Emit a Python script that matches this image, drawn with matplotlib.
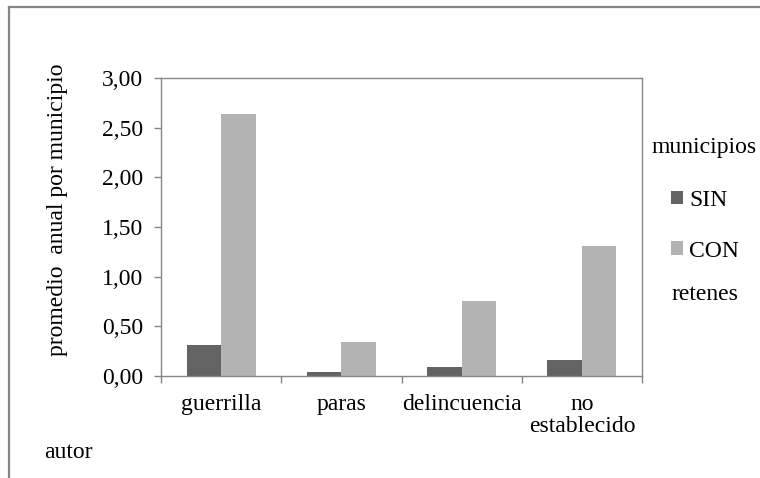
import numpy as np
import matplotlib
matplotlib.use("Agg")
import matplotlib.pyplot as plt
from matplotlib.lines import Line2D
from matplotlib.ticker import FuncFormatter

# data
autores = ["guerrilla", "paras", "delincuencia", "no\nestablecido"]
sin_retenes = [0.315, 0.037, 0.094, 0.165]
con_retenes = [2.64, 0.345, 0.76, 1.31]
series_names = ["SIN", "CON"]
y_ticks = [0.0, 0.5, 1.0, 1.5, 2.0, 2.5, 3.0]

plt.rcParams['font.family'] = ['Liberation Serif', 'DejaVu Serif']
plt.rcParams['font.size'] = 17

W, H = 760, 478
fig = plt.figure(figsize=(W/100, H/100), dpi=100)
ax = fig.add_axes([161/W, 1-376/H, (642-161)/W, (376-78)/H])

grey = '#868686'
x = np.arange(len(autores))
bw = 0.2875
b1 = ax.bar(x - bw/2, sin_retenes, bw, color='#636363', label=series_names[0])
b2 = ax.bar(x + bw/2, con_retenes, bw, color='#b3b3b3', label=series_names[1])

ax.set_xlim(-0.5, len(autores) - 0.5)
ax.set_ylim(0, 3)
ax.set_yticks(y_ticks)
ax.yaxis.set_major_formatter(FuncFormatter(lambda v, p: f"{v:.2f}".replace('.', ',')))
ax.set_xticks(x)
ax.set_xticklabels(autores, linespacing=1.08)
ax.set_xticks(np.arange(len(autores) + 1) - 0.5, minor=True)
ax.tick_params(axis='x', which='major', length=0, pad=13)
ax.tick_params(axis='x', which='minor', length=5, color=grey, width=1)
ax.tick_params(axis='y', length=5, color=grey, width=1, pad=8)
for s in ax.spines.values():
    s.set_color(grey)
    s.set_linewidth(1)

# text labels outside the plot area
fig.text(58/W, 1-210/H, "promedio  anual por municipio", rotation=90,
         ha='center', va='center')
fig.text(44/W, 1-452/H, "autor", ha='left', va='center')
fig.text(652/W, 1-148/H, "municipios", ha='left', va='center')
fig.text(671/W, 1-294/H, "retenes", ha='left', va='center')

ax.legend(handles=[b1, b2], loc='upper left', bbox_to_anchor=(671/W, 1-190/H),
          bbox_transform=fig.transFigure, frameon=False, borderpad=0,
          borderaxespad=0, handlelength=0.51, handleheight=0.51,
          handletextpad=0.25, labelspacing=1.25)

# outer chart border (left and top edges visible)
fig.add_artist(Line2D([9/W, 9/W], [0, 1-7/H], color=grey, lw=1.6,
                      transform=fig.transFigure))
fig.add_artist(Line2D([9/W, 1], [1-7/H, 1-7/H], color=grey, lw=1.6,
                      transform=fig.transFigure))

fig.savefig("out.png", dpi=100)
